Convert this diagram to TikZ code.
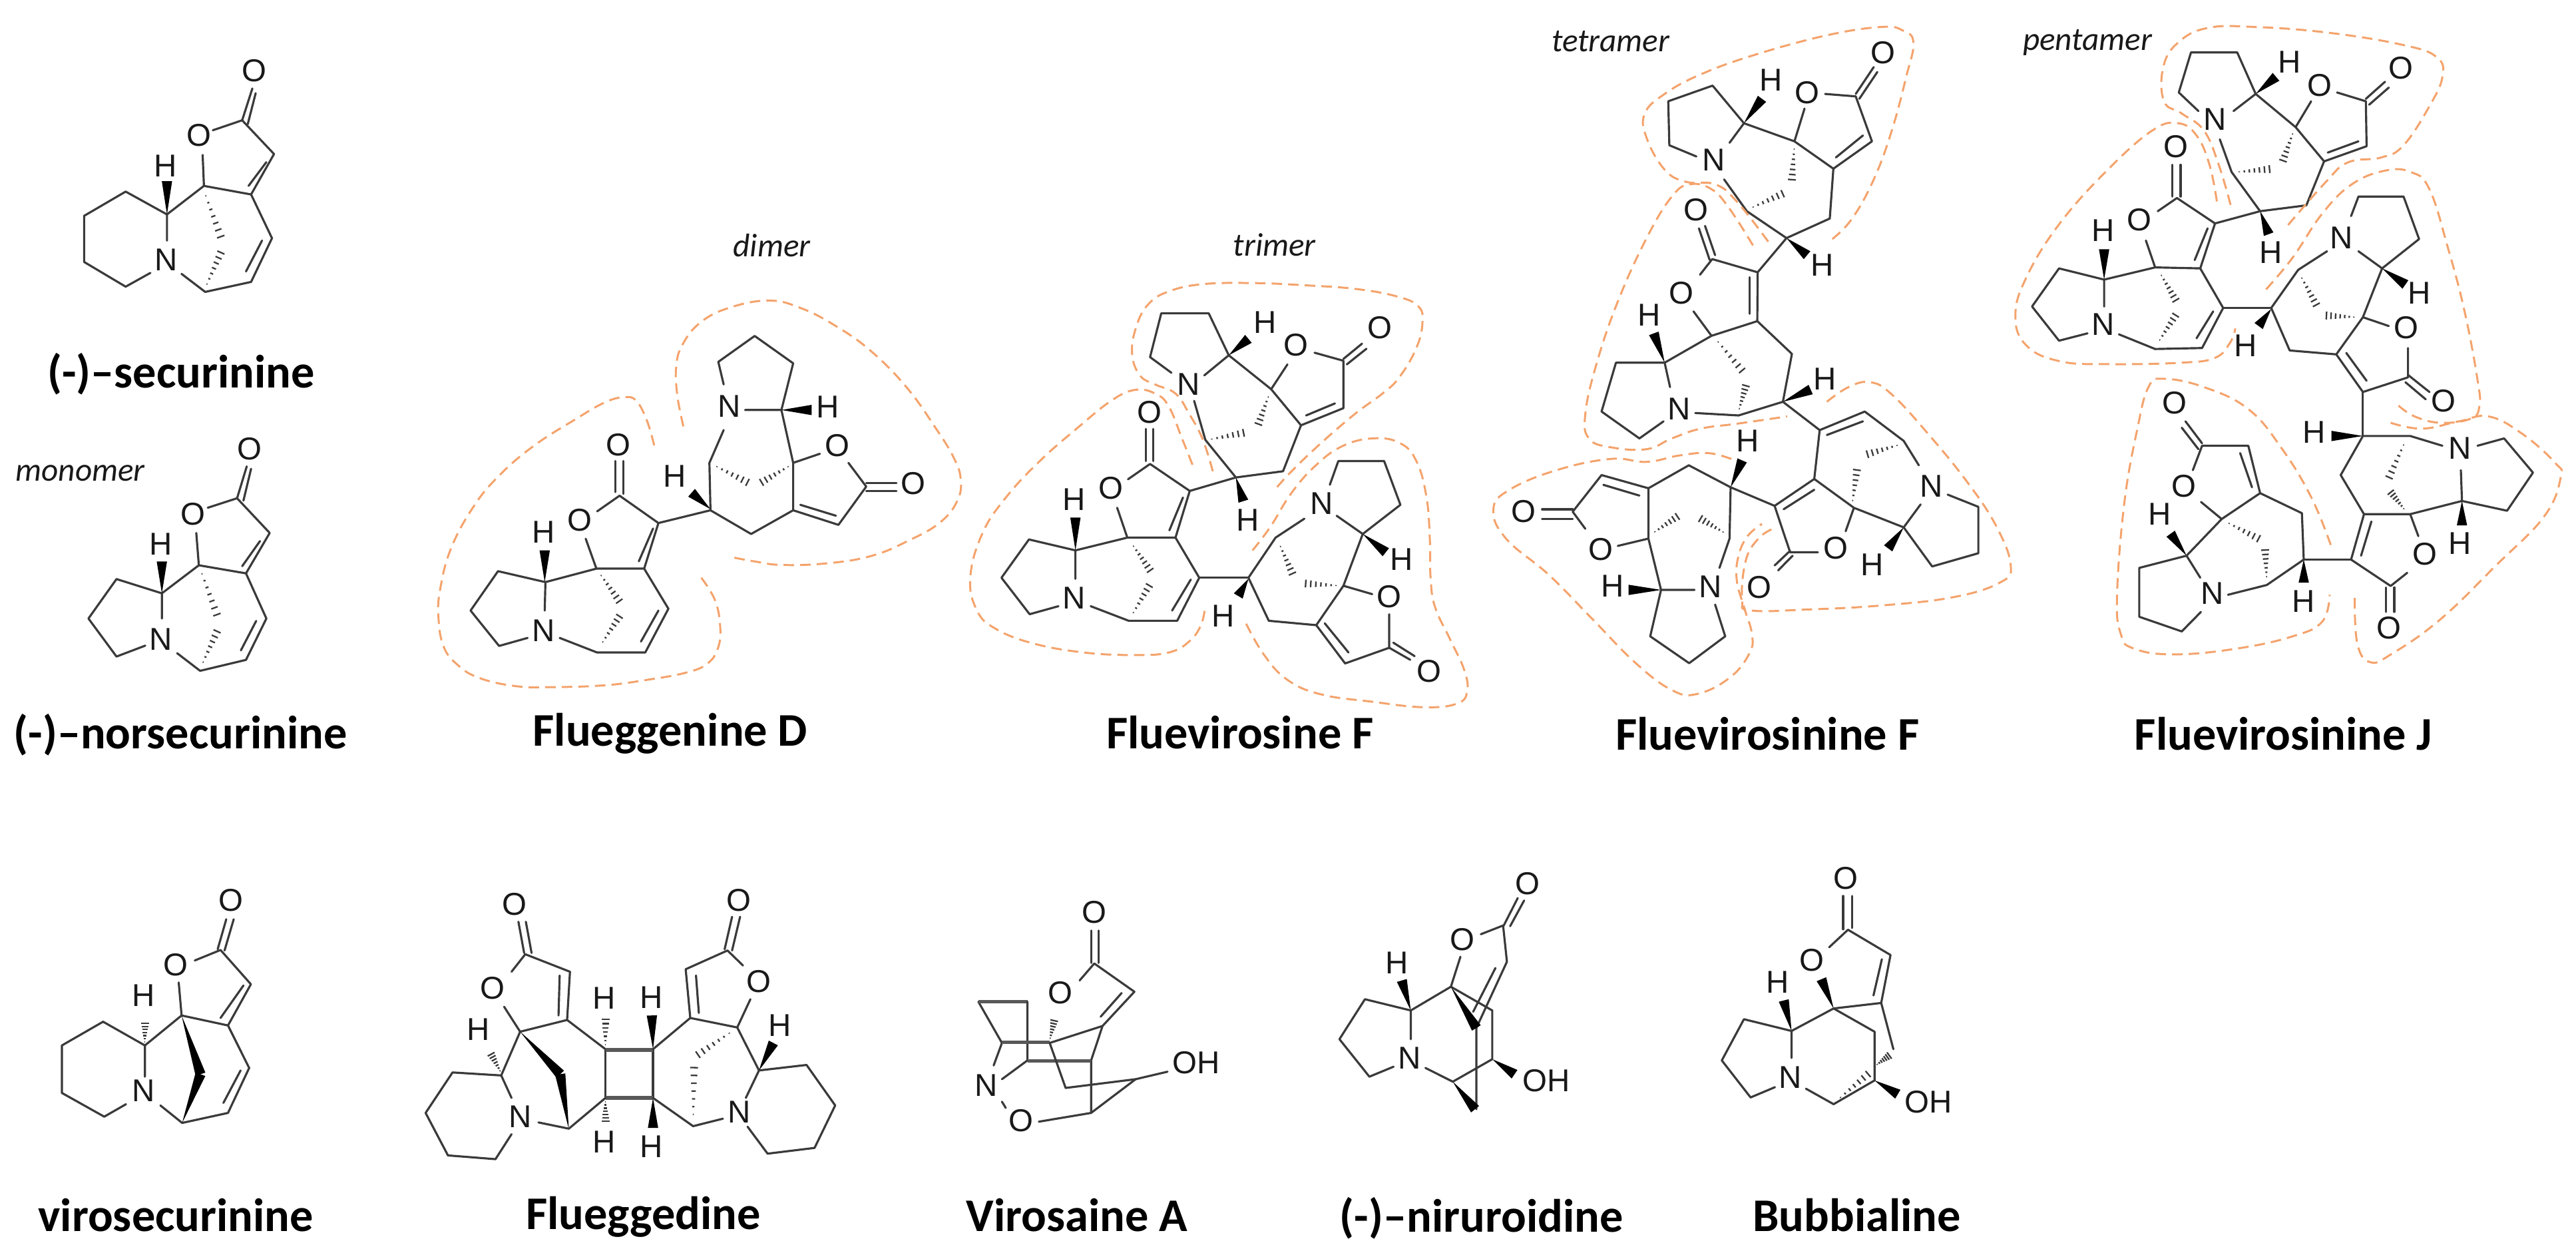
\documentclass[tikz,border=0pt]{standalone}
\usepackage{fontspec}
\setmainfont{Carlito}
\newfontfamily\atomf{Liberation Sans}
\usetikzlibrary{calc}
\definecolor{bondc}{HTML}{3A3A3A}
\definecolor{dashc}{HTML}{F4A36C}
\tikzset{
 bond/.style={draw=bondc,line width=0.9pt,line cap=round,line join=round},
 thickbond/.style={draw=bondc!85,line width=1.5pt},
 hashl/.style={draw=bondc,line width=0.65pt},
 wedgefill/.style={fill=black},
 contour/.style={draw=dashc,line width=0.85pt,dash pattern=on 4.5pt off 2.6pt},
 atomlbl/.style={font=\atomf\fontsize{13.5}{14}\selectfont,inner sep=0pt,text=black!90},
 titlelbl/.style={font=\fontsize{20}{22}\bfseries\selectfont,inner sep=0pt,text=black},
 kindlbl/.style={font=\fontsize{14}{16}\itshape\selectfont,inner sep=0pt,text=black!90},
}
\newcounter{atomc}
\newcommand\A[2]{\stepcounter{atomc}\node[atomlbl] (atom\theatomc) at (#1) {#2};}
\newcommand\B[1]{\draw[bond] #1;}
\newcommand\W[2]{\fill[wedgefill] (#1) -- ($(#2)!2.2pt!90:(#1)$) -- ($(#2)!2.2pt!-90:(#1)$) -- cycle;}
\newcommand\Hh[2]{\foreach \t in {0.1,0.23,...,0.98}{\draw[hashl] ($(#1)!\t!(#2)!\t*1.9pt!90:(#2)$) -- ($(#1)!\t!(#2)!\t*1.9pt!-90:(#2)$);}}
\newcommand\Co[1]{\draw[contour] plot[smooth,tension=0.7] coordinates {#1};}
\begin{document}
\begin{tikzpicture}
\useasboundingbox (0,0) rectangle (38.7,-18.88);
\fill[white] (0,0) rectangle (38.7,-18.88);

%%% zoom 1: securinine, norsecurinine
\begin{scope}[shift={(0cm,-0.4cm)},x=0.0038265cm,y=-0.0071429cm]
\A{997,93}{O}\A{780,228}{O}\A{652,490}{N}\A{650,293}{H}
\B{(950,197)--(990,130)}\B{(972,205)--(1003,140)}
\B{(835,218)--(950,197)--(1075,268)--(985,353)--(1067,445)--(985,537)--(805,558)--(712,520)}
\B{(975,335)--(1045,285)}\B{(965,515)--(1028,450)}
\B{(795,270)--(800,335)--(985,353)}
\B{(800,335)--(655,395)--(655,450)}
\B{(655,395)--(493,347)--(330,398)--(330,495)--(493,547)--(590,518)}
\W{655,395}{655,325}
\Hh{800,345}{875,455}\Hh{805,550}{875,465}
\node[titlelbl] (t1) at (710,730) {(-)–securinine};
\A{978,888}{O}\A{757,1025}{O}\A{632,1288}{N}\A{630,1088}{H}
\B{(930,992)--(968,925)}\B{(955,997)--(985,930)}
\B{(815,1012)--(930,992)--(1058,1065)--(965,1150)--(1045,1245)--(965,1332)--(785,1355)--(695,1318)}
\B{(950,1135)--(1020,1082)}\B{(945,1312)--(1005,1250)}
\B{(770,1065)--(780,1133)--(965,1150)}
\B{(780,1133)--(635,1192)--(635,1245)}
\B{(635,1192)--(457,1162)--(347,1245)--(457,1325)--(570,1302)}
\W{635,1192}{635,1125}
\Hh{785,1140}{860,1250}\Hh{790,1345}{860,1262}
\node[kindlbl] (k1) at (315,940) {monomer};
\node[titlelbl] (t2) at (708,1490) {(-)–norsecurinine};
\end{scope}

%%% zoom 2: Flueggenine D
\begin{scope}[shift={(6.4cm,-3.2cm)},x=0.0053571cm,y=-0.0054847cm]
\A{540,635}{O}\A{432,842}{O}\A{330,875}{H}\A{330,1145}{N}
\B{(532,680)--(532,765)}\B{(553,680)--(553,770)}
\B{(480,818)--(543,775)--(652,850)--(612,975)--(680,1085)--(615,1205)--(480,1205)--(375,1165)}
\B{(637,865)--(597,955)}\B{(603,1175)--(652,1090)}
\B{(448,893)--(478,975)--(612,975)}
\B{(478,975)--(335,1012)--(333,1090)}
\B{(335,1012)--(202,982)--(125,1090)--(205,1187)--(285,1165)}
\W{333,1012}{333,925}
\Hh{485,985}{550,1075}\Hh{490,1185}{550,1095}
\B{(652,850)--(798,815)}
\A{698,722}{H}\A{850,530}{N}\A{1127,532}{H}\A{1153,637}{O}\A{1367,742}{O}
\W{798,812}{745,767}
\B{(835,595)--(795,685)--(798,815)--(912,880)--(1030,815)--(1030,685)--(997,540)--(895,540)}
\B{(835,470)--(820,408)--(922,337)--(1030,412)--(997,540)}
\W{997,540}{1082,540}
\B{(1030,685)--(1105,660)}
\B{(1030,815)--(1157,855)--(1235,750)--(1185,685)}
\B{(1050,800)--(1150,830)}
\B{(1235,740)--(1320,740)}\B{(1235,762)--(1320,762)}
\Hh{805,690}{915,745}\Hh{1025,690}{930,745}
\Co{(640,637)(620,570)(590,515)(555,505)(500,520)(420,565)(300,640)(200,725)(130,810)(70,920)(40,1030)(35,1110)(50,1190)(90,1240)(150,1275)(250,1297)(350,1300)(500,1295)(620,1280)(730,1260)(790,1235)(820,1190)(825,1130)(810,1060)(770,997)}
\Co{(722,585)(705,500)(702,420)(720,360)(770,300)(850,260)(960,240)(1050,260)(1150,310)(1250,380)(1350,480)(1430,590)(1480,670)(1500,730)(1490,790)(1440,850)(1350,900)(1250,940)(1130,960)(1000,965)(920,955)(850,942)}
\node[kindlbl] (k2) at (970,88) {dimer};
\node[titlelbl] (t3) at (685,1428) {Flueggenine D};
\end{scope}

%%% zoom 3: Fluevirosine F
\begin{scope}[shift={(14.5cm,-3.2cm)},x=0.005102cm,y=-0.0054847cm]
\A{658,470}{N}\A{885,300}{H}\A{976,362}{O}\A{1222,315}{O}\A{833,842}{H}
\B{(608,438)--(545,395)--(578,275)--(718,275)--(777,390)--(705,445)}
\W{777,390}{835,345}
\B{(777,390)--(902,483)--(950,415)}
\B{(1030,383)--(1115,405)--(1115,535)--(990,582)--(902,483)}
\B{(1115,400)--(1170,358)}\B{(1125,415)--(1183,372)}
\B{(1090,522)--(1005,555)}
\B{(990,582)--(937,708)--(798,725)--(708,622)--(675,515)}
\Hh{897,495}{860,590}\Hh{715,622}{835,600}
\W{798,725}{820,790}
\B{(662,762)--(798,725)}
\A{543,547}{O}\A{430,755}{O}\A{322,785}{H}\A{322,1055}{N}
\B{(533,592)--(533,680)}\B{(555,592)--(555,680)}
\B{(480,730)--(545,688)--(662,762)--(620,890)--(690,1000)--(625,1118)--(482,1118)--(370,1078)}
\B{(642,780)--(602,870)}\B{(610,1090)--(665,1005)}
\B{(448,808)--(478,890)--(620,890)}
\B{(478,890)--(325,925)--(325,1003)}
\B{(325,925)--(188,895)--(107,1000)--(190,1100)--(275,1078)}
\W{325,925}{325,835}
\Hh{490,905}{553,990}\Hh{490,1105}{550,1010}
\B{(690,1000)--(835,1000)}
\A{760,1105}{H}\A{1050,797}{N}\A{1287,950}{H}\A{1250,1052}{O}\A{1367,1257}{O}
\W{835,1003}{805,1050}
\B{(1000,838)--(915,890)--(835,1000)--(895,1118)--(1035,1130)--(1115,1022)--(1172,880)--(1095,830)}
\B{(1075,745)--(1100,680)--(1235,680)--(1283,800)--(1172,880)}
\W{1172,880}{1240,930}
\B{(1115,1022)--(1200,1045)}
\B{(1035,1130)--(1120,1235)--(1250,1192)--(1250,1100)}
\B{(1060,1125)--(1130,1205)}
\B{(1250,1192)--(1312,1225)}\B{(1262,1178)--(1325,1215)}
\Hh{925,905}{970,1000}\Hh{1105,1022}{990,1015}
\Co{(730,708)(700,620)(660,550)(620,495)(560,470)(515,445)(492,385)(505,310)(540,250)(600,215)(700,195)(850,192)(1000,198)(1150,208)(1270,228)(1335,255)(1348,300)(1330,370)(1280,450)(1230,495)(1150,550)(1050,630)(960,710)(910,762)}
\Co{(670,690)(640,620)(600,530)(560,495)(500,485)(430,515)(330,590)(220,680)(120,780)(50,880)(15,1000)(35,1090)(90,1140)(200,1180)(350,1205)(500,1212)(600,1205)(660,1175)(695,1130)(707,1080)}
\Co{(847,925)(900,860)(960,770)(1030,695)(1110,640)(1200,618)(1280,630)(1330,680)(1360,780)(1370,900)(1372,1000)(1385,1080)(1430,1170)(1470,1250)(1480,1310)(1450,1345)(1350,1355)(1200,1340)(1050,1320)(950,1280)(880,1210)(825,1120)}
\node[kindlbl] (k3) at (912,88) {trimer};
\node[titlelbl] (t4) at (810,1425) {Fluevirosine F};
\end{scope}

%%% zoom 4: Fluevirosinine F
\begin{scope}[shift={(22.3cm,-0.2cm)},x=0.0054209cm,y=-0.0073342cm]
\A{637,300}{N}\A{795,137}{H}\A{895,162}{O}\A{1105,80}{O}\A{938,515}{H}
\B{(588,293)--(513,270)--(510,180)--(633,148)--(720,225)--(680,265)}
\W{720,225}{770,175}
\B{(720,225)--(860,262)--(888,195)}
\B{(945,165)--(1030,170)--(1075,262)--(968,318)--(860,262)}
\B{(1030,165)--(1080,110)}\B{(1040,175)--(1090,120)}
\B{(1050,250)--(975,295)}
\B{(968,318)--(958,420)--(838,460)--(728,405)--(665,340)}
\Hh{860,270}{852,350}\Hh{735,400}{840,365}
\W{838,460}{895,495}
\B{(838,460)--(758,530)}
\A{587,402}{O}\A{547,573}{O}\A{457,617}{H}\A{540,810}{N}\A{945,748}{H}
\B{(595,440)--(625,505)}\B{(612,435)--(640,495)}
\B{(598,535)--(632,503)--(758,530)--(757,630)--(853,697)--(828,795)--(705,823)--(585,818)}
\B{(735,540)--(735,615)}
\B{(580,610)--(630,660)--(757,630)}
\W{828,795}{905,770}
\B{(515,765)--(500,715)--(630,660)}
\W{500,715}{470,655}
\B{(500,715)--(365,715)--(325,815)--(430,870)--(497,835)}
\Hh{640,665}{725,740}\Hh{705,815}{728,755}
\B{(828,795)--(930,853)}
\A{1240,967}{N}\A{1075,1128}{H}\A{975,1095}{O}\A{762,1175}{O}
\B{(930,853)--(1055,815)--(1163,875)--(1205,925)}
\B{(950,863)--(1050,835)}
\B{(1285,985)--(1370,1010)--(1370,1105)--(1242,1132)--(1163,1052)--(1210,1005)}
\W{1163,1052}{1120,1095}
\B{(1163,1052)--(1025,1012)--(915,953)--(930,853)}
\B{(1025,1012)--(1002,1060)}
\B{(925,1103)--(848,1103)--(805,1008)--(915,953)}
\B{(848,1100)--(805,1130)}\B{(855,1110)--(815,1140)}
\B{(830,1015)--(915,975)}
\Hh{1155,882}{1050,905}\Hh{1020,1005}{1035,925}
\B{(805,1008)--(683,970)}
\A{730,875}{H}\A{627,1173}{N}\A{355,1172}{H}\A{323,1097}{O}\A{108,1020}{O}
\W{683,970}{715,915}
\B{(455,1075)--(455,972)--(567,925)--(683,970)--(680,1075)--(652,1135)}
\B{(583,1180)--(490,1180)--(455,1075)--(370,1090)}
\W{490,1180}{400,1180}
\B{(455,972)--(325,945)--(245,1020)--(280,1055)}
\B{(430,987)--(330,965)}
\B{(160,1015)--(245,1015)}\B{(160,1035)--(245,1035)}
\B{(490,1180)--(460,1275)--(568,1330)--(668,1275)--(640,1210)}
\Hh{465,1065}{545,1025}\Hh{670,1065}{590,1030}
\Co{(965,462)(1020,420)(1080,340)(1130,240)(1170,130)(1190,60)(1160,35)(1100,28)(950,45)(750,85)(600,125)(500,165)(445,205)(450,255)(500,320)(560,345)(640,350)(700,385)(790,470)}
\Co{(745,475)(680,400)(630,360)(570,350)(520,375)(450,460)(370,590)(310,720)(280,820)(290,870)(350,888)(450,892)(520,870)(600,850)(700,840)(840,825)}
\Co{(950,795)(1010,765)(1070,755)(1130,780)(1230,860)(1340,960)(1420,1050)(1460,1130)(1430,1165)(1300,1195)(1100,1212)(900,1220)(740,1222)(715,1200)(725,1120)(760,1075)(800,1055)}
\Co{(685,912)(620,900)(540,905)(450,918)(350,912)(200,935)(70,975)(25,1015)(60,1075)(180,1150)(300,1240)(420,1330)(520,1385)(590,1393)(680,1360)(735,1310)(742,1270)(720,1215)(700,1160)(705,1110)(730,1070)(770,1045)}
\node[kindlbl] (k4) at (350,58) {tetramer};
\node[titlelbl] (t5) at (785,1475) {Fluevirosinine F};
\end{scope}

%%% zoom 5: Fluevirosinine J
\begin{scope}[shift={(30cm,-0.2cm)},x=0.0055485cm,y=-0.0073342cm]
\A{590,217}{N}\A{792,100}{H}\A{873,147}{O}\A{1092,112}{O}\A{742,490}{H}
\B{(545,200)--(492,162)--(525,80)--(650,80)--(700,165)--(640,200)}
\W{700,165}{755,130}
\B{(700,165)--(808,233)--(850,180)}
\B{(920,162)--(998,180)--(1000,272)--(885,303)--(808,233)}
\B{(998,175)--(1050,140)}\B{(1007,187)--(1060,152)}
\B{(978,262)--(895,285)}
\B{(885,303)--(837,393)--(712,405)--(635,325)--(603,258)}
\Hh{803,240}{770,310}\Hh{645,325}{750,318}
\W{712,405}{735,452}
\B{(590,430)--(712,405)}
\A{485,273}{O}\A{385,422}{O}\A{287,445}{H}\A{287,637}{N}
\B{(475,310)--(475,375)}\B{(497,310)--(497,375)}
\B{(435,405)--(487,378)--(590,430)--(550,522)--(612,603)--(555,685)--(428,687)--(330,657)}
\B{(570,440)--(535,505)}\B{(540,665)--(585,610)}
\B{(403,465)--(428,520)--(550,522)}
\B{(428,520)--(290,545)--(290,600)}
\W{290,545}{290,483}
\B{(290,545)--(168,522)--(95,600)--(168,670)--(245,655)}
\Hh{440,530}{490,595}\Hh{435,675}{490,610}
\B{(612,603)--(742,603)}
\A{672,680}{H}\A{932,460}{N}\A{1142,572}{H}\A{1108,643}{O}\A{1208,793}{O}
\W{742,605}{708,640}
\B{(893,487)--(815,525)--(742,603)--(792,690)--(918,698)--(990,622)--(1042,522)--(978,487)}
\B{(958,415)--(978,375)--(1100,375)--(1142,462)--(1042,522)}
\W{1042,522}{1105,555}
\B{(990,622)--(1060,640)}
\B{(918,698)--(990,775)--(1112,745)--(1112,685)}
\B{(945,695)--(1000,752)}
\B{(1112,740)--(1170,775)}\B{(1105,755)--(1160,790)}
\Hh{820,535}{870,605}\Hh{975,622}{880,618}
\B{(990,775)--(990,865)}
\A{858,857}{H}\A{1252,890}{N}\A{1252,1085}{H}\A{1158,1107}{O}\A{1060,1258}{O}
\W{990,865}{905,865}
\B{(1205,885)--(1118,865)--(990,865)--(930,945)--(993,1025)--(1118,1025)--(1258,998)--(1255,935)}
\B{(1300,885)--(1372,870)--(1450,940)--(1380,1018)--(1258,998)}
\W{1258,998}{1258,1048}
\B{(1118,1025)--(1140,1070)}
\B{(1110,1145)--(1065,1172)--(958,1118)--(993,1025)}
\B{(1013,1040)--(985,1110)}
\B{(1053,1175)--(1053,1225)}\B{(1075,1175)--(1075,1225)}
\Hh{1105,875}{1055,960}\Hh{1105,1018}{1060,975}
\B{(958,1118)--(830,1118)}
\A{830,1203}{H}\A{582,1187}{N}\A{440,1025}{H}\A{505,967}{O}\A{480,798}{O}
\W{830,1118}{830,1165}
\B{(712,982)--(825,1023)--(830,1118)--(730,1170)--(625,1190)}
\B{(552,1225)--(500,1265)--(385,1235)--(385,1135)--(513,1110)--(550,1155)}
\W{513,1110}{470,1065}
\B{(513,1110)--(608,1035)--(552,1000)}
\B{(608,1035)--(712,982)--(680,885)--(555,885)--(530,935)}
\B{(690,970)--(658,900)}
\B{(555,880)--(510,835)}\B{(545,892)--(500,848)}
\Hh{618,1040}{720,1080}\Hh{730,1160}{725,1090}
\Co{(632,392)(600,310)(560,240)(500,205)(452,180)(450,110)(490,60)(570,30)(700,28)(900,40)(1100,65)(1190,90)(1205,130)(1170,190)(1100,270)(1040,295)(950,305)(890,345)(780,440)}
\Co{(595,385)(575,310)(540,250)(490,225)(420,240)(300,320)(170,430)(80,540)(50,620)(80,680)(170,712)(300,718)(500,715)(590,705)(630,675)(645,645)}
\Co{(728,565)(800,500)(880,410)(960,350)(1050,322)(1120,325)(1170,360)(1220,480)(1265,610)(1300,750)(1305,805)(1280,830)(1200,838)(1130,825)(1085,802)}
\Co{(1065,838)(1150,850)(1250,835)(1330,825)(1420,860)(1510,920)(1525,950)(1480,1030)(1350,1130)(1200,1240)(1070,1310)(1010,1328)(975,1290)(968,1195)}
\Co{(903,1088)(850,990)(770,890)(680,810)(560,765)(450,748)(410,765)(380,850)(345,1000)(325,1190)(335,1270)(370,1300)(480,1312)(650,1300)(800,1275)(880,1245)(900,1190)}
\node[kindlbl] (k5) at (245,60) {pentamer};
\node[titlelbl] (t6) at (775,1475) {Fluevirosinine J};
\end{scope}

%%% zoom 6: virosecurinine, Flueggedine
\begin{scope}[shift={(0cm,-13cm)},x=0.0086096cm,y=-0.00375cm]
\A{403,140}{O}\A{307,398}{O}\A{250,520}{H}\A{250,900}{N}
\B{(380,335)--(395,215)}\B{(392,340)--(408,215)}
\B{(340,380)--(385,338)--(438,475)--(398,640)--(435,810)--(398,990)--(318,1030)--(280,960)}
\B{(425,480)--(385,610)}\B{(390,950)--(420,820)}
\B{(312,468)--(317,600)--(398,640)}
\B{(317,600)--(253,720)--(253,845)}
\Hh{253,715}{253,620}
\B{(253,720)--(180,625)--(108,720)--(108,910)--(182,1005)--(220,955)}
\W{317,600}{350,835}\W{318,1030}{350,835}
\node[titlelbl] (t7) at (307,1400) {virosecurinine};
\A{898,155}{O}\A{860,490}{O}\A{835,655}{H}\A{908,1005}{N}\A{1055,530}{H}\A{1137,528}{H}\A{1055,1105}{H}\A{1137,1125}{H}
\B{(905,225)--(915,350)}\B{(918,225)--(928,350)}
\B{(893,425)--(917,355)--(995,425)--(990,618)--(1057,735)}
\B{(977,440)--(975,600)}
\B{(880,565)--(908,665)--(990,618)}
\B{(1057,735)--(1057,930)}\B{(1140,735)--(1140,930)}
\draw[thickbond] (1057,738)--(1140,738);\draw[thickbond] (1057,930)--(1140,930);
\Hh{1057,730}{1057,600}\W{1140,735}{1138,600}
\B{(908,665)--(875,840)--(893,930)}
\Hh{875,830}{855,745}
\B{(875,840)--(790,828)--(743,990)--(782,1160)--(865,1175)--(893,1075)}
\W{908,665}{978,835}\W{993,1055}{978,835}
\B{(940,1028)--(993,1053)--(1057,930)}
\Hh{1057,935}{1057,1035}\W{1140,930}{1140,1050}
\B{(1140,930)--(1210,1043)--(1262,1013)}
\A{1325,465}{O}\A{1290,140}{O}\A{1290,985}{N}\A{1362,640}{H}
\B{(1140,735)--(1205,610)--(1287,648)--(1325,820)--(1302,930)}
\B{(1205,610)--(1197,415)--(1270,340)--(1297,400)}
\B{(1215,440)--(1220,590)}
\B{(1265,335)--(1278,205)}\B{(1278,340)--(1292,205)}
\B{(1310,535)--(1287,648)}
\W{1325,820}{1350,710}
\B{(1325,820)--(1408,798)--(1458,960)--(1422,1130)--(1340,1153)--(1305,1045)}
\Hh{1280,660}{1210,770}\Hh{1210,1020}{1212,780}
\node[titlelbl] (t8) at (1123,1405) {Flueggedine};
\end{scope}

%%% zoom 7: Virosaine A, niruroidine
\begin{scope}[shift={(14cm,-13cm)},x=0.0095663cm,y=-0.00375cm]
\A{255,187}{O}\A{202,510}{O}\A{85,880}{N}\A{140,1020}{O}\A{415,790}{OH}
\B{(250,260)--(250,390)}\B{(262,260)--(262,390)}
\B{(232,460)--(255,392)--(318,505)--(268,642)--(250,780)--(250,990)--(168,1025)}
\B{(298,510)--(265,605)}
\B{(268,642)--(185,710)}
\B{(110,710)--(73,545)}\draw[thickbond] (73,545)--(150,545);
\B{(150,545)--(150,780)--(110,855)}
\Hh{185,700}{193,610}
\B{(110,710)--(97,800)}
\draw[thickbond] (150,782)--(250,782);\draw[thickbond] (110,708)--(185,708);
\B{(185,710)--(210,890)--(320,855)--(370,825)}
\B{(320,855)--(250,990)}
\B{(110,945)--(116,970)}
\node[titlelbl] (t9) at (228,1400) {Virosaine A};
\A{935,72}{O}\A{833,295}{O}\A{730,390}{H}\A{750,770}{N}\A{965,860}{OH}
\B{(898,240)--(920,130)}\B{(908,243)--(930,140)}
\B{(862,275)--(897,240)--(903,385)--(855,650)--(855,975)}
\B{(885,410)--(850,585)}
\B{(830,365)--(815,485)--(752,580)--(752,695)}
\B{(815,485)--(880,580)--(880,775)--(818,865)--(775,810)}
\W{752,580}{738,460}
\B{(752,580)--(680,535)--(640,695)--(687,845)--(725,805)}
\W{815,485}{855,650}
\W{880,775}{915,835}\W{818,865}{853,975}
\node[titlelbl] (t10) at (863,1410) {(-)–niruroidine};
\end{scope}

%%% zoom 8: Bubbialine
\begin{scope}[shift={(26cm,-13cm)},x=0.0033333cm,y=-0.00375cm]
\A{520,50}{O}\A{367,380}{O}\A{212,467}{H}\A{270,848}{N}\A{892,945}{OH}
\B{(508,122)--(508,255)}\B{(548,122)--(548,250)}
\B{(445,327)--(530,257)--(722,358)--(680,550)--(735,735)}
\B{(683,375)--(645,520)}
\W{465,572}{410,455}
\B{(680,550)--(465,572)--(275,662)--(275,770)}
\W{275,662}{240,540}
\B{(275,662)--(60,615)--(-40,780)--(90,928)--(200,887)}
\B{(340,893)--(465,955)--(650,860)--(650,665)--(465,572)}
\W{650,860}{755,915}
\Hh{480,940}{640,820}\Hh{655,800}{725,755}
\node[titlelbl] (t11) at (570,1400) {Bubbialine};
\end{scope}
\end{tikzpicture}
\end{document}
